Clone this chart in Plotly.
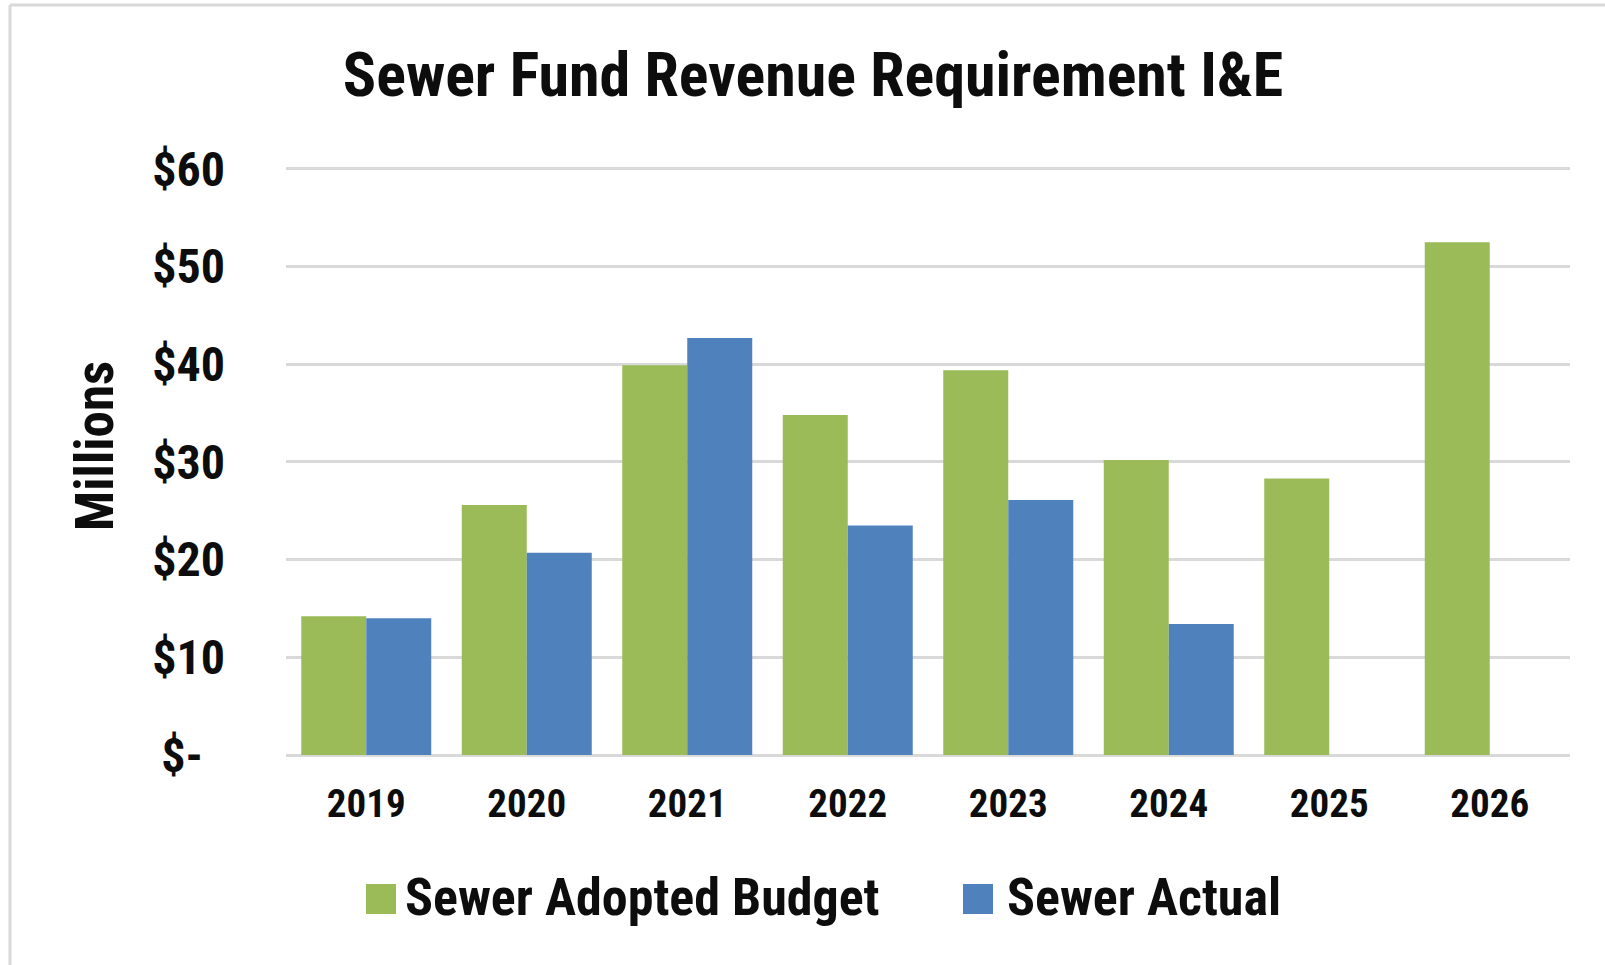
import plotly.graph_objects as go

years = ["2019", "2020", "2021", "2022", "2023", "2024", "2025", "2026"]
adopted_budget = [14.2, 25.6, 39.9, 34.8, 39.4, 30.2, 28.3, 52.5]
actual = [14.0, 20.7, 42.7, 23.5, 26.1, 13.4, None, None]
y_tick_vals = [0, 10, 20, 30, 40, 50, 60]
y_tick_text = ["$-\u00a0\u00a0", "$10", "$20", "$30", "$40", "$50", "$60"]
series_names = ["Sewer Adopted Budget", "Sewer Actual"]
colors = ["#9BBB59", "#4F81BD"]

W, H = 1605, 965
L, R, T, B = 286, 1570, 167, 755
Y_MAX = 60.2
FONT = "Liberation Sans Narrow, Arial Narrow, Roboto Condensed, DejaVu Sans Condensed, sans-serif"
GRID = "#d9d9d9"
TXT = "#0d0d0d"


def px(x):
    return (x - L) / (R - L)


def py(y):
    return (B - y) / (B - T)


fig = go.Figure()
fig.add_trace(go.Bar(x=years, y=adopted_budget, name=series_names[0],
                     marker=dict(color=colors[0], line=dict(width=0)), showlegend=False))
fig.add_trace(go.Bar(x=years, y=actual, name=series_names[1],
                     marker=dict(color=colors[1], line=dict(width=0)), showlegend=False))

shapes = [
    # outer frame (left and top edges visible)
    dict(type="line", xref="paper", yref="paper", x0=px(10), x1=px(10), y0=py(5), y1=py(990),
         line=dict(color=GRID, width=3)),
    dict(type="line", xref="paper", yref="paper", x0=px(10), x1=px(1620), y0=py(5), y1=py(5),
         line=dict(color=GRID, width=3)),
]
annotations = [
    dict(text="Millions", xref="paper", yref="paper", x=px(95), y=py(446), textangle=-90,
         showarrow=False, xanchor="center", yanchor="middle",
         font=dict(family=FONT, size=53, color=TXT, weight="bold")),
]
# legend drawn as swatches + labels
leg_items = [(366, 403), (963, 1005)]
for (sx, tx), name, col in zip(leg_items, series_names, colors):
    shapes.append(dict(type="rect", xref="paper", yref="paper", x0=px(sx), x1=px(sx + 30),
                       y0=py(914), y1=py(884), fillcolor=col, line=dict(width=0)))
    annotations.append(dict(text=name, xref="paper", yref="paper", x=px(tx), y=py(897),
                            showarrow=False, xanchor="left", yanchor="middle",
                            font=dict(family=FONT, size=52, color=TXT, weight="bold")))

fig.update_layout(
    width=W, height=H,
    margin=dict(l=L, r=W - R, t=T, b=H - B, pad=0),
    paper_bgcolor="white", plot_bgcolor="white",
    barmode="group", bargap=0.19, bargroupgap=0,
    title=dict(text="Sewer Fund Revenue Requirement I&E", x=813 / W, xanchor="center",
               xref="container", yref="container",
               y=1 - 74 / H, yanchor="middle",
               font=dict(family=FONT, size=62, color=TXT, weight="bold")),
    shapes=shapes, annotations=annotations,
    showlegend=False,
)
fig.update_xaxes(showgrid=False, showline=False, zeroline=False, ticks="",
                 tickfont=dict(family=FONT, size=39, color=TXT, weight="bold"),
                 ticklabelstandoff=22)
fig.update_yaxes(range=[0, Y_MAX], tickvals=y_tick_vals, ticktext=y_tick_text,
                 showgrid=True, gridcolor=GRID, gridwidth=3,
                 zeroline=True, zerolinecolor=GRID, zerolinewidth=3, showline=False,
                 ticks="", tickfont=dict(family=FONT, size=48, color=TXT, weight="bold"),
                 ticklabelstandoff=60)

fig.write_html("out.html", config={"displayModeBar": False},
               post_script="document.body.style.margin='0';document.body.style.overflow='hidden';")
